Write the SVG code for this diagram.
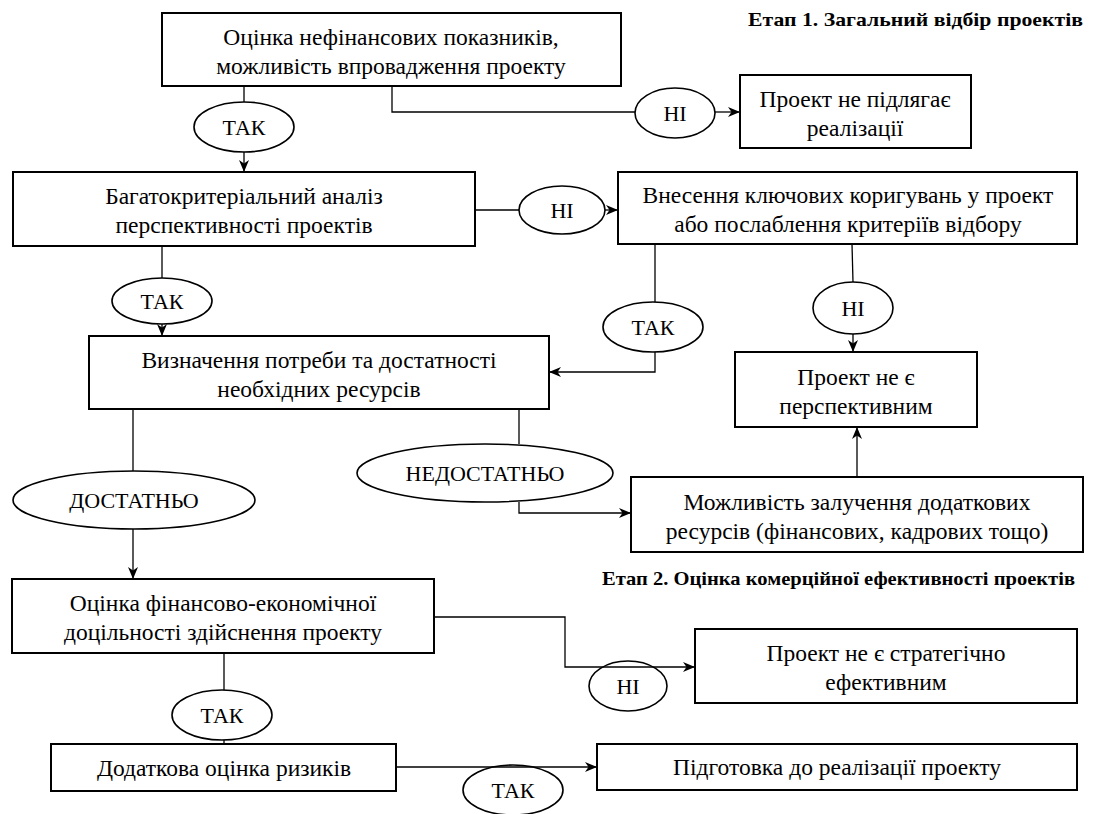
<svg xmlns="http://www.w3.org/2000/svg" width="1093" height="814" viewBox="0 0 1093 814">
<style>
.box{fill:#fff;stroke:#000;stroke-width:2}
.lab{fill:#fff;stroke:#000;stroke-width:1.6}
.t{font-family:"Liberation Serif","Times New Roman",serif;font-size:23.5px;fill:#000;text-anchor:middle}
.e{font-family:"Liberation Serif","Times New Roman",serif;font-size:22px;fill:#000;text-anchor:middle}
.h{font-family:"Liberation Serif","Times New Roman",serif;font-size:19px;font-weight:bold;fill:#000;text-anchor:end}
.c{fill:none;stroke:#000;stroke-width:1.3}
.a{marker-end:url(#arr)}
</style>
<defs>
<marker id="arr" markerUnits="userSpaceOnUse" markerWidth="13" markerHeight="10" refX="12" refY="5" orient="auto">
<path d="M0,0 L12,5 L0,10 L3.5,5 Z" fill="#000"/>
</marker>
</defs>
<rect width="1093" height="814" fill="#fff"/>
<text class="h" x="1083" y="26" textLength="335" lengthAdjust="spacingAndGlyphs">Етап 1. Загальний відбір проектів</text>
<text class="h" x="1075" y="585" textLength="473" lengthAdjust="spacingAndGlyphs">Етап 2. Оцінка комерційної ефективності проектів</text>

<g id="n1"><rect class="box" x="162" y="13" width="459" height="73"/>
<text class="t" x="391" y="45">Оцінка нефінансових показників,</text>
<text class="t" x="391" y="74">можливість впровадження проекту</text></g>

<g id="n2"><rect class="box" x="740" y="75" width="231" height="73"/>
<text class="t" x="855" y="107">Проект не підлягає</text>
<text class="t" x="855" y="136">реалізації</text></g>

<g id="n3"><rect class="box" x="13" y="172" width="462" height="74"/>
<text class="t" x="244" y="204">Багатокритеріальний аналіз</text>
<text class="t" x="244" y="233">перспективності проектів</text></g>

<g id="n4"><rect class="box" x="618" y="172" width="459" height="72"/>
<text class="t" x="848" y="203">Внесення ключових коригувань у проект</text>
<text class="t" x="848" y="232">або послаблення критеріїв відбору</text></g>

<g id="n5"><rect class="box" x="89" y="336" width="460" height="73"/>
<text class="t" x="319" y="368">Визначення потреби та достатності</text>
<text class="t" x="319" y="397">необхідних ресурсів</text></g>

<g id="n6"><rect class="box" x="735" y="352" width="242" height="75"/>
<text class="t" x="856" y="385">Проект не є</text>
<text class="t" x="856" y="414">перспективним</text></g>

<g id="n8"><rect class="box" x="631" y="477" width="452" height="75"/>
<text class="t" x="857" y="510">Можливість залучення додаткових</text>
<text class="t" x="857" y="539">ресурсів (фінансових, кадрових тощо)</text></g>

<g id="n7"><rect class="box" x="12" y="579" width="422" height="74"/>
<text class="t" x="223" y="611">Оцінка фінансово-економічної</text>
<text class="t" x="223" y="640">доцільності здійснення проекту</text></g>

<g id="n9"><rect class="box" x="695" y="629" width="382" height="74"/>
<text class="t" x="886" y="661">Проект не є стратегічно</text>
<text class="t" x="886" y="690">ефективним</text></g>

<g id="n10"><rect class="box" x="51" y="744" width="345" height="47"/>
<text class="t" x="224" y="776">Додаткова оцінка ризиків</text></g>

<g id="n11"><rect class="box" x="597" y="744" width="480" height="46"/>
<text class="t" x="837" y="775">Підготовка до реалізації проекту</text></g>

<g id="l1"><ellipse class="lab" cx="244" cy="127" rx="50" ry="25"/><text class="e" x="244" y="135">ТАК</text></g>
<g id="l2"><ellipse class="lab" cx="675" cy="113" rx="40" ry="25"/><text class="e" x="675" y="121">НІ</text></g>
<g id="l3"><ellipse class="lab" cx="562" cy="210" rx="43" ry="24"/><text class="e" x="562" y="218">НІ</text></g>
<g id="l4"><ellipse class="lab" cx="162" cy="301" rx="50" ry="23"/><text class="e" x="162" y="309">ТАК</text></g>
<g id="l5"><ellipse class="lab" cx="653" cy="327" rx="50" ry="25"/><text class="e" x="653" y="335">ТАК</text></g>
<g id="l6"><ellipse class="lab" cx="853" cy="308" rx="40" ry="26"/><text class="e" x="853" y="316">НІ</text></g>
<g id="l7"><ellipse class="lab" cx="134" cy="500" rx="121" ry="29"/><text class="e" x="134" y="508">ДОСТАТНЬО</text></g>
<g id="l8"><ellipse class="lab" cx="485" cy="473" rx="128" ry="29"/><text class="e" x="485" y="481">НЕДОСТАТНЬО</text></g>
<g id="l9"><ellipse class="lab" cx="628" cy="686" rx="39" ry="25"/><text class="e" x="628" y="694">НІ</text></g>
<g id="l10"><ellipse class="lab" cx="222" cy="715" rx="50" ry="25"/><text class="e" x="222" y="723">ТАК</text></g>
<g id="l11"><ellipse class="lab" cx="513" cy="790" rx="50" ry="25"/><text class="e" x="513" y="798">ТАК</text></g>

<g id="connectors">
<path class="c" d="M244,86 V102"/>
<path class="c a" d="M244,152 V172"/>
<path class="c" d="M392,86 V112 H635"/>
<path class="c a" d="M715,112 H740"/>
<path class="c" d="M475,210 H519"/>
<path class="c a" d="M605,210 H618"/>
<path class="c" d="M162,246 V278"/>
<path class="c a" d="M162,324 V336"/>
<path class="c" d="M655,244 V302"/>
<path class="c a" d="M655,352 V372 H549"/>
<path class="c" d="M852,244 L853,282"/>
<path class="c a" d="M853,334 V352"/>
<path class="c" d="M133,409 V471"/>
<path class="c a" d="M133,529 V579"/>
<path class="c" d="M519,409 V444"/>
<path class="c a" d="M519,502 V513 H631"/>
<path class="c a" d="M857,477 V427"/>
<path class="c a" d="M434,617 H565 V667 H695"/>
<path class="c" d="M224,653 V690"/>
<path class="c" d="M224,740 V744"/>
<path class="c a" d="M396,767 H597"/>
</g>
</svg>
